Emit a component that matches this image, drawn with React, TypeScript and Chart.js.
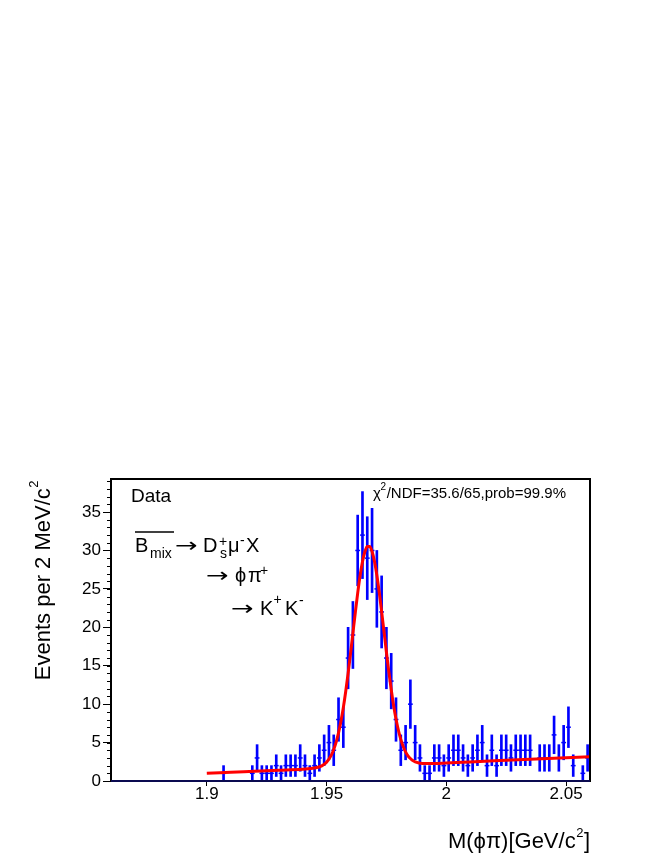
import React, { useEffect, useRef } from 'react';
import { Chart, registerables } from 'chart.js';

Chart.register(...registerables);

// ---- data ----
const binCenters = [
  1.907, 1.919, 1.921, 1.923, 1.925, 1.927, 1.929, 1.931, 1.933, 1.935,
  1.937, 1.939, 1.941, 1.943, 1.945, 1.947, 1.949, 1.951, 1.953, 1.955,
  1.957, 1.959, 1.961, 1.963, 1.965, 1.967, 1.969, 1.971, 1.973, 1.975,
  1.977, 1.979, 1.981, 1.983, 1.985, 1.987, 1.989, 1.991, 1.993, 1.995,
  1.997, 1.999, 2.001, 2.003, 2.005, 2.007, 2.009, 2.011, 2.013, 2.015,
  2.017, 2.019, 2.021, 2.023, 2.025, 2.027, 2.029, 2.031, 2.033, 2.035,
  2.039, 2.041, 2.043, 2.045, 2.047, 2.049, 2.051, 2.053, 2.057, 2.059,
];
const counts = [
  1, 1, 3, 1, 1, 1, 2, 1, 2, 2,
  2, 3, 2, 1, 2, 3, 4, 5, 4, 8,
  7, 16, 19, 30, 32, 29, 30, 25, 22, 16,
  13, 8, 4, 5, 10, 5, 3, 1, 1, 3,
  3, 2, 3, 4, 4, 3, 2, 3, 4, 5,
  2, 4, 2, 4, 4, 3, 4, 4, 4, 4,
  3, 3, 3, 6, 3, 5, 7, 2, 1, 3,
];
const errors = [
  1, 1, 1.73, 1, 1, 1, 1.41, 1, 1.41, 1.41,
  1.41, 1.73, 1.41, 1, 1.41, 1.73, 2, 2.24, 2, 2.83,
  2.65, 4, 4.36, 4.6, 5.66, 5.39, 5.48, 5, 4.69, 4,
  3.61, 2.83, 2, 2.24, 3.16, 2.24, 1.73, 1, 1, 1.73,
  1.73, 1.41, 1.73, 2, 2, 1.73, 1.41, 1.73, 2, 2.24,
  1.41, 2, 1.41, 2, 2, 1.73, 2, 2, 2, 2,
  1.73, 1.73, 1.73, 2.45, 1.73, 2.24, 2.65, 1.41, 1, 1.73,
];

// fit curve
const fitX = [
  1.900, 1.910, 1.920, 1.930, 1.940, 1.945, 1.948, 1.950, 1.952, 1.953,
  1.954, 1.955, 1.956, 1.957, 1.958, 1.959, 1.960, 1.961, 1.962, 1.963,
  1.964, 1.965, 1.966, 1.967, 1.968, 1.969, 1.970, 1.971, 1.972, 1.973,
  1.974, 1.975, 1.976, 1.977, 1.978, 1.979, 1.980, 1.981, 1.982, 1.983,
  1.984, 1.985, 1.986, 1.987, 1.990, 1.995, 2.000, 2.010, 2.020, 2.030,
  2.040, 2.050, 2.060,
];
const fitY = [
  1.00, 1.135, 1.27, 1.405, 1.54, 1.68, 1.97, 2.45, 3.37, 4.10,
  5.05, 6.26, 7.76, 9.55, 11.65, 14.0, 16.56, 19.23, 21.9, 24.44,
  26.7, 28.53, 29.83, 30.52, 30.53, 29.87, 28.6, 26.79, 24.56, 22.05,
  19.41, 16.76, 14.23, 11.9, 9.83, 8.07, 6.6, 5.41, 4.49, 3.79,
  3.28, 2.92, 2.66, 2.49, 2.29, 2.28, 2.35, 2.485, 2.62, 2.755,
  2.89, 3.025, 3.16,
];

const xTickValues = [1.9, 1.95, 2.0, 2.05];
const yTickValues = [0, 5, 10, 15, 20, 25, 30, 35];
const X_MIN = 1.86;
const X_MAX = 2.06;
const Y_MAX = 39.3;
const Y_MINOR_STEP = 1;

const FONT = "'Liberation Sans', Arial, Helvetica, sans-serif";
const SYM_FONT = "'DejaVu Sans', sans-serif";
const BLUE = '#0000ff';
const RED = '#ff0000';

type Seg = { t: string; x: number; y: number; size: number; sx?: number; font?: string };

const ARROW = '\u2192';

const annotationSegs: Seg[] = [
  { t: 'Data', x: 131, y: 502, size: 19 },
  // B_mix -> D_s^+ mu^- X
  { t: 'B', x: 135, y: 552, size: 20 },
  { t: 'mix', x: 150, y: 558, size: 14 },
  { t: ARROW, x: 175, y: 552, size: 20, sx: 1.35, font: SYM_FONT },
  { t: 'D', x: 203, y: 552, size: 20 },
  { t: 's', x: 220, y: 558, size: 14 },
  { t: '+', x: 219, y: 546, size: 14 },
  { t: '\u03bc', x: 228, y: 552, size: 20 },
  { t: '-', x: 240, y: 545, size: 14 },
  { t: 'X', x: 246, y: 552, size: 20 },
  // -> phi pi^+
  { t: ARROW, x: 206, y: 582, size: 20, sx: 1.35, font: SYM_FONT },
  { t: '\u03d5', x: 235, y: 582, size: 20 },
  { t: '\u03c0', x: 248, y: 582, size: 20 },
  { t: '+', x: 260, y: 575, size: 14 },
  // -> K^+ K^-
  { t: ARROW, x: 231, y: 615, size: 20, sx: 1.35, font: SYM_FONT },
  { t: 'K', x: 260, y: 615, size: 20 },
  { t: '+', x: 273.5, y: 604, size: 14 },
  { t: 'K', x: 285, y: 615, size: 20 },
  { t: '-', x: 299, y: 605, size: 14 },
  // chi2 text
  { t: '\u03c7', x: 373, y: 498, size: 15 },
  { t: '2', x: 380.5, y: 490, size: 10 },
  { t: '/NDF=35.6/65,prob=99.9%', x: 386.7, y: 498, size: 15 },
];

function drawSegs(ctx: CanvasRenderingContext2D, segs: Seg[]) {
  ctx.textAlign = 'left';
  ctx.textBaseline = 'alphabetic';
  for (const s of segs) {
    ctx.font = `${s.size}px ${s.font || FONT}`;
    if (s.sx && s.sx !== 1) {
      ctx.save();
      ctx.translate(s.x, s.y);
      ctx.scale(s.sx, 1);
      ctx.fillText(s.t, 0, 0);
      ctx.restore();
    } else {
      ctx.fillText(s.t, s.x, s.y);
    }
  }
}

// draws main text + superscript + optional tail, right-aligned at (0,0)
function drawTitleRight(
  ctx: CanvasRenderingContext2D,
  main: string,
  sup: string,
  tail: string,
  size: number,
  supSize: number,
  supDy: number
) {
  ctx.textAlign = 'left';
  ctx.textBaseline = 'alphabetic';
  ctx.font = `${size}px ${FONT}`;
  const wMain = ctx.measureText(main).width;
  const wTail = tail ? ctx.measureText(tail).width : 0;
  ctx.font = `${supSize}px ${FONT}`;
  const wSup = ctx.measureText(sup).width;
  const total = wMain + wSup + 1 + wTail;
  let x = -total;
  ctx.font = `${size}px ${FONT}`;
  ctx.fillText(main, x, 0);
  x += wMain + 0.5;
  ctx.font = `${supSize}px ${FONT}`;
  ctx.fillText(sup, x, supDy);
  x += wSup + 0.5;
  if (tail) {
    ctx.font = `${size}px ${FONT}`;
    ctx.fillText(tail, x, 0);
  }
}

const decorPlugin = {
  id: 'decor',
  afterDraw(chart: any) {
    const ctx: CanvasRenderingContext2D = chart.ctx;
    const { left, right, top, bottom } = chart.chartArea;
    const ys = chart.scales.y;
    ctx.save();
    // minor y ticks
    ctx.strokeStyle = '#000';
    ctx.lineWidth = 1;
    for (let v = 0; v <= Y_MAX; v += Y_MINOR_STEP) {
      const py = Math.round(ys.getPixelForValue(v)) + 0.5;
      ctx.beginPath();
      ctx.moveTo(left - 4, py);
      ctx.lineTo(left, py);
      ctx.stroke();
    }
    // frame
    ctx.lineWidth = 2;
    ctx.strokeStyle = '#000';
    ctx.strokeRect(left, top, right - left, bottom - top);
    // bottom edge appears dark navy in the reference
    ctx.strokeStyle = '#0a0a50';
    ctx.beginPath();
    ctx.moveTo(left, bottom);
    ctx.lineTo(right, bottom);
    ctx.stroke();

    // annotations
    ctx.fillStyle = '#000';
    ctx.strokeStyle = '#000';
    drawSegs(ctx, annotationSegs);
    // overline on B_mix
    ctx.lineWidth = 1.5;
    ctx.beginPath();
    ctx.moveTo(135, 532);
    ctx.lineTo(174, 532);
    ctx.stroke();

    // x title
    ctx.save();
    ctx.translate(right, 848);
    drawTitleRight(ctx, 'M(\u03d5\u03c0)[GeV/c', '2', ']', 22, 13, -11);
    ctx.restore();

    // y title
    ctx.save();
    ctx.translate(50, 480);
    ctx.rotate(-Math.PI / 2);
    drawTitleRight(ctx, 'Events per 2 MeV/c', '2', '', 22, 13, -12);
    ctx.restore();

    ctx.restore();
  },
};

function fmtX(v: number) {
  return String(Math.round(v * 1000) / 1000);
}

export default function App() {
  const canvasRef = useRef<HTMLCanvasElement | null>(null);

  useEffect(() => {
    const canvas = canvasRef.current;
    if (!canvas) return;

    const errorBars = binCenters.map((c, i) => ({
      x: c,
      y: [Math.max(0, counts[i] - errors[i]), counts[i] + errors[i]],
    }));
    const markers = binCenters.map((c, i) => ({ x: c, y: counts[i] }));
    const fitPts = fitX.map((x, i) => ({ x, y: fitY[i] }));

    const chart = new Chart(canvas, {
      type: 'bar',
      data: {
        datasets: [
          {
            type: 'line',
            data: fitPts,
            borderColor: RED,
            borderWidth: 3,
            pointRadius: 0,
            fill: false,
            cubicInterpolationMode: 'monotone',
            order: 1,
          } as any,
          {
            type: 'scatter',
            data: markers,
            pointStyle: 'line',
            pointRadius: 2.4,
            pointBorderColor: BLUE,
            pointBorderWidth: 1.5,
            borderColor: BLUE,
            backgroundColor: BLUE,
            order: 2,
          } as any,
          {
            type: 'bar',
            data: errorBars,
            backgroundColor: BLUE,
            borderWidth: 0,
            barThickness: 2,
            grouped: false,
            order: 3,
          } as any,
        ],
      },
      options: {
        responsive: false,
        animation: false,
        devicePixelRatio: 1,
        layout: { padding: { left: 0, top: 479, right: 80, bottom: 0 } },
        plugins: {
          legend: { display: false },
          tooltip: { enabled: false },
          title: { display: false },
        },
        scales: {
          x: {
            type: 'linear',
            position: 'bottom',
            min: X_MIN,
            max: X_MAX,
            offset: false,
            afterBuildTicks: (s: any) => {
              s.ticks = xTickValues.map((v) => ({ value: v }));
            },
            afterFit: (s: any) => {
              s.height = 86;
            },
            grid: {
              display: true,
              drawOnChartArea: false,
              drawTicks: true,
              tickLength: 5,
              tickColor: '#000',
              offset: false,
            },
            border: { display: false },
            ticks: {
              font: { family: FONT, size: 17 },
              color: '#000',
              padding: -2,
              maxRotation: 0,
              autoSkip: false,
              callback: (v: any) => fmtX(Number(v)),
            },
          },
          y: {
            type: 'linear',
            min: 0,
            max: Y_MAX,
            afterBuildTicks: (s: any) => {
              s.ticks = yTickValues.map((v) => ({ value: v }));
            },
            afterFit: (s: any) => {
              s.width = 111;
            },
            grid: {
              display: true,
              drawOnChartArea: false,
              drawTicks: true,
              tickLength: 8,
              tickColor: '#000',
            },
            border: { display: false },
            ticks: {
              font: { family: FONT, size: 17 },
              color: '#000',
              padding: 2,
              autoSkip: false,
              callback: (v: any) => String(v),
            },
          },
        },
      } as any,
      plugins: [decorPlugin],
    });

    return () => {
      chart.destroy();
    };
  }, []);

  return (
    <div style={{ position: 'absolute', left: 0, top: 0, width: 670, height: 867 }}>
      <canvas ref={canvasRef} width={670} height={867} style={{ display: 'block' }} />
    </div>
  );
}
